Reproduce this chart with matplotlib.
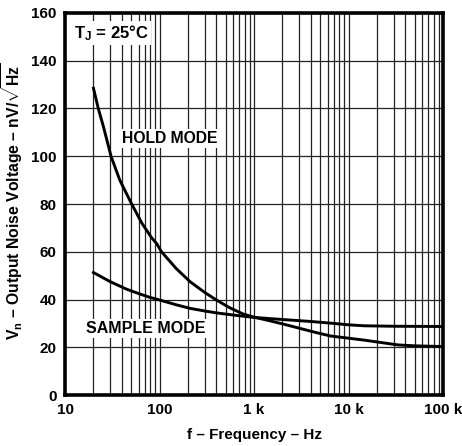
import numpy as np
from matplotlib import pyplot as plt
from matplotlib import ticker as mticker

# values
hold_freq = [20, 22.5, 25.5, 30.7, 38, 50, 65, 82, 93, 105, 150, 210, 300,
             400, 550, 770, 1000, 1360, 2000, 3000, 4500, 6500, 10000, 14600,
             22000, 33000, 50000, 100000]
hold_vn = [128.5, 120, 112.4, 100, 90, 80.5, 72, 66, 63.5, 60, 53, 47.5, 43,
           39.8, 36.6, 33.9, 32.6, 31.4, 29.8, 28.0, 26.2, 24.7, 23.8, 23.0,
           22.0, 21.0, 20.6, 20.3]

sample_freq = [20, 25, 30, 45, 60, 79, 100, 150, 210, 300, 400, 604, 1000,
               2040, 4000, 6500, 10000, 14600, 30000, 100000]
sample_vn = [51.3, 49.2, 47.5, 44.3, 42.5, 40.9, 39.8, 37.8, 36.3, 35.2, 34.4,
             33.5, 32.5, 31.6, 30.8, 30.1, 29.4, 29.0, 28.8, 28.7]

x_ticks = [10, 100, 1000, 10000, 100000]
x_tick_labels = ['10', '100', '1 k', '10 k', '100 k']
y_ticks = list(range(0, 161, 20))

plt.rcParams['font.family'] = ['Liberation Sans', 'DejaVu Sans']
plt.rcParams['font.weight'] = 'bold'
plt.rcParams['mathtext.fontset'] = 'custom'
plt.rcParams['mathtext.rm'] = 'Liberation Sans:bold'
plt.rcParams['mathtext.bf'] = 'Liberation Sans:bold'
plt.rcParams['mathtext.it'] = 'Liberation Sans:bold'

figure = plt.figure(figsize=(4.62, 4.46), dpi=100)
ax = figure.add_axes([0.1407, 0.1143, 0.8182, 0.8566])

ax.set_xscale('log')
ax.set_xlim(10, 100000)
ax.set_ylim(0, 160)

ax.xaxis.set_major_locator(mticker.FixedLocator(x_ticks))
ax.xaxis.set_major_formatter(mticker.FixedFormatter(x_tick_labels))
ax.xaxis.set_minor_locator(mticker.LogLocator(base=10, subs=np.arange(2, 10)))
ax.xaxis.set_minor_formatter(mticker.NullFormatter())
ax.set_yticks(y_ticks)

ax.grid(True, which='both', axis='x', color='#222222', linewidth=0.9)
ax.grid(True, which='major', axis='y', color='#222222', linewidth=0.9)
ax.tick_params(axis='both', which='both', length=0, labelsize=11, pad=6)
for lbl in ax.get_xticklabels() + ax.get_yticklabels():
    lbl.set_fontweight('bold')

for spine in ax.spines.values():
    spine.set_linewidth(2.6)
    spine.set_zorder(5)

ax.plot(hold_freq, hold_vn, color='black', linewidth=2.1, zorder=4,
        solid_joinstyle='round')
ax.plot(sample_freq, sample_vn, color='black', linewidth=2.1, zorder=4,
        solid_joinstyle='round')

box = dict(facecolor='white', edgecolor='none', pad=1.5)
ax.text(0.024, 151.6, r'T$_\mathregular{J}$ = 25°C', transform=ax.get_yaxis_transform(),
        fontsize=12, fontweight='bold', va='center', ha='left', bbox=box, zorder=6)
ax.text(129, 107.6, 'HOLD MODE', fontsize=11.3, fontweight='bold',
        va='center', ha='center', bbox=box, zorder=6)
ax.text(72, 28, 'SAMPLE MODE', fontsize=11.5, fontweight='bold',
        va='center', ha='center', bbox=box, zorder=6)

ax.set_xlabel('f \u2013 Frequency \u2013 Hz', fontsize=11, fontweight='bold', labelpad=8)
ax.set_ylabel('V$_\\mathregular{n}$ \u2013 Output Noise Voltage \u2013 nV/$\\sqrt{\\mathregular{Hz}}$',
              fontsize=11.3, fontweight='bold')
ax.yaxis.set_label_coords(-0.105, 0.508)

figure.savefig('out.png', dpi=100)
